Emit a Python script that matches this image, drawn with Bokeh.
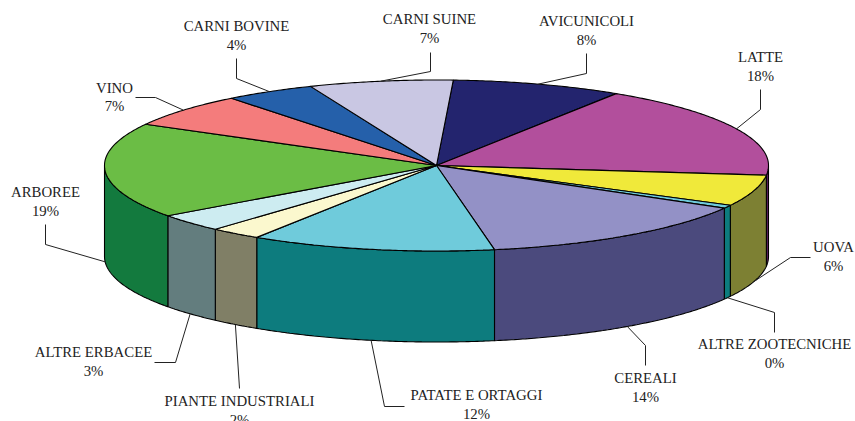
import math
from bokeh.plotting import figure
from bokeh.models import Range1d
from bokeh.core.properties import value
from bokeh.embed import file_html
from bokeh.resources import INLINE

# Data, clockwise from the first slice
categories = ["AVICUNICOLI", "LATTE", "UOVA", "ALTRE ZOOTECNICHE", "CEREALI",
              "PATATE E ORTAGGI", "PIANTE INDUSTRIALI", "ALTRE ERBACEE",
              "ARBOREE", "VINO", "CARNI BOVINE", "CARNI SUINE"]
shares = [8.3, 17.7, 5.9, 0.6, 13.9, 11.9, 2.5, 3.4, 18.0, 6.4, 4.4, 7.0]
percent_labels = ["8%", "18%", "6%", "0%", "14%", "12%", "2%", "3%", "19%", "7%", "4%", "7%"]

# Styles
top_colors = ["#23246E", "#B24F9C", "#F0E93A", "#6FCBDB", "#9391C6", "#6FCBDB",
              "#FBF8CE", "#CDECF1", "#6BBD45", "#F47C7C", "#2560AA", "#C9C7E3"]
side_colors = ["#11123A", "#5C1F5E", "#7D8033", "#0D7C7E", "#4B4A7D", "#0D7C7E",
               "#807F66", "#637D7E", "#137A3E", "#80403F", "#123058", "#656478"]

# Layout of the drawing, in page pixels
CX, CY, RX, RY, DEPTH = 436.0, 165.0, 332.0, 85.5, 91.0
START_DEG = 2.9
# leader elbow points and text centres (x, name y, percent y) per category
leader_bends = [[(586, 73), (586, 53)], [(760, 109), (760, 89)], [(790, 257), (810, 257)],
                [(774, 312), (774, 332)], [(645, 345), (645, 365)], [(384, 406), (404, 406)],
                [(239, 388)], [(175, 362), (154, 362)], [(45, 244), (45, 224)],
                [(155, 97), (135, 97)], [(236, 78), (236, 58)], [(430, 71), (430, 52)]]
label_pos = [(586, 20, 39), (760, 56, 75), (833, 246, 265), (774, 343, 362), (645, 377, 396),
             (476, 394, 413), (239, 400, 419), (93, 351, 370), (45, 191, 210), (114, 87, 105),
             (236, 25, 44), (429, 18, 37)]


def pt(deg, drop=0.0):
    t = math.radians(deg)
    return CX + RX * math.sin(t), CY - RY * math.cos(t) + drop


def arc(a, b):
    n = max(2, int(abs(b - a) * 2) + 1)
    return [a + (b - a) * i / (n - 1) for i in range(n)]


total = sum(shares)
edges = [START_DEG]
for s in shares:
    edges.append(edges[-1] + s / total * 360.0)

side_xs, side_ys, side_fill = [], [], []
top_xs, top_ys = [], []
for i in range(len(shares)):
    a, b = edges[i], edges[i + 1]
    pts = [(CX, CY)] + [pt(d) for d in arc(a, b)]
    top_xs.append([p[0] for p in pts])
    top_ys.append([p[1] for p in pts])
    lo, hi = max(a, 90.0), min(b, 270.0)
    if lo < hi:
        ds = arc(lo, hi)
        ring = [pt(d) for d in ds] + [pt(d, DEPTH) for d in reversed(ds)]
        side_xs.append([p[0] for p in ring])
        side_ys.append([p[1] for p in ring])
        side_fill.append(side_colors[i])

p = figure(width=855, height=421, x_range=Range1d(0, 855), y_range=Range1d(421, 0),
           output_backend="svg", toolbar_location=None, min_border=0,
           x_axis_location=None, y_axis_location=None, outline_line_color=None,
           background_fill_color="white", border_fill_color="white")
p.grid.visible = False

p.patches(side_xs, side_ys, fill_color=side_fill, line_color="black", line_width=1.1)
p.patches(top_xs, top_ys, fill_color=top_colors, line_color="black", line_width=1.1)

lead_xs, lead_ys = [], []
for i, bends in enumerate(leader_bends):
    mid = (edges[i] + edges[i + 1]) / 2
    m = mid % 360
    start = pt(mid, DEPTH if 90 <= m <= 270 else 0.0)
    lead_xs.append([start[0]] + [b[0] for b in bends])
    lead_ys.append([start[1]] + [b[1] for b in bends])
p.multi_line(lead_xs, lead_ys, line_color="#222222", line_width=1)

font = value("Liberation Serif")
p.text([q[0] for q in label_pos], [q[1] for q in label_pos], text=categories,
       text_font=font, text_font_size="14.8px", text_color="#222222",
       text_align="center", text_baseline="middle")
p.text([q[0] for q in label_pos], [q[2] for q in label_pos], text=percent_labels,
       text_font=font, text_font_size="14.8px", text_color="#222222",
       text_align="center", text_baseline="middle")

open("out.html", "w").write(file_html(p, INLINE))
